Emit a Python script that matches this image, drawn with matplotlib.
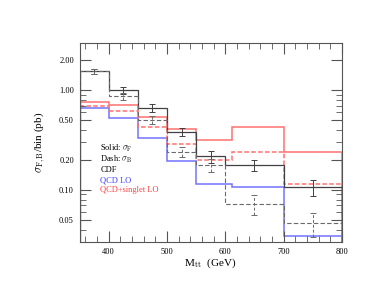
import matplotlib
matplotlib.use("Agg")
import matplotlib.pyplot as plt
from matplotlib.ticker import FixedLocator, FixedFormatter, NullFormatter
import numpy as np

plt.rcParams["font.family"] = ["Liberation Serif", "DejaVu Serif"]
plt.rcParams["mathtext.fontset"] = "cm"

# CDF data bins (GeV)
data_edges = [350, 400, 450, 500, 550, 600, 700, 800]
data_centers = [375, 425, 475, 525, 575, 650, 750]
cdf_sigma_f = [1.55, 1.00, 0.667, 0.382, 0.218, 0.178, 0.106]
cdf_sigma_f_err = [0.09, 0.08, 0.057, 0.036, 0.03, 0.024, 0.02]
cdf_sigma_b = [1.55, 0.88, 0.505, 0.242, 0.177, 0.072, 0.0465]
cdf_sigma_b_err = [0.08, 0.07, 0.043, 0.03, 0.027, 0.016, 0.0125]

# theory bins (GeV)
theory_edges = [350, 400, 450, 500, 550, 612, 700, 800]
qcd_lo = [0.661, 0.525, 0.329, 0.195, 0.116, 0.106, 0.0347]
singlet_sigma_f = [0.76, 0.71, 0.542, 0.41, 0.316, 0.427, 0.243]
singlet_sigma_b = [0.705, 0.615, 0.424, 0.29, 0.198, 0.238, 0.114]

y_ticks = [0.05, 0.10, 0.20, 0.50, 1.00, 2.00]

black = "#404040"
grey = "#6a6a6a"
red = "#ff7070"
blue = "#7373ff"

fig = plt.figure(figsize=(3.85, 2.98), dpi=100)
ax = fig.add_axes([0.2065, 0.188, 0.6815, 0.668])

ax.stairs(qcd_lo, theory_edges, color=blue, lw=1.1)
ax.stairs(singlet_sigma_f, theory_edges, color=red, lw=1.1)
ax.stairs(singlet_sigma_b, theory_edges, color=red, lw=1.1, ls=(0, (3, 1.5)))

ax.stairs(cdf_sigma_f, data_edges, color=black, lw=0.9)
ax.stairs(cdf_sigma_b, data_edges, color=grey, lw=0.8, ls=(0, (4, 2)))

eb = ax.errorbar(data_centers, cdf_sigma_f, yerr=cdf_sigma_f_err, fmt="none",
                 ecolor=black, elinewidth=0.7, capsize=2, capthick=0.7)
eb2 = ax.errorbar(data_centers, cdf_sigma_b, yerr=cdf_sigma_b_err, fmt="none",
                  ecolor=grey, elinewidth=0.7, capsize=2, capthick=0.7)
eb2[2][0].set_linestyle((0, (3, 2)))

ax.set_yscale("log")
ax.set_xlim(350, 800)
ax.set_ylim(0.03, 3.0)

ax.yaxis.set_major_locator(FixedLocator(y_ticks))
ax.yaxis.set_major_formatter(FixedFormatter(["%.2f" % t for t in y_ticks]))
minor = [m * 10.0 ** e for e in (-2, -1, 0) for m in range(1, 10)]
minor = [v for v in minor if 0.03 <= v <= 3.0 and not any(abs(v - t) < 1e-9 for t in y_ticks)]
ax.yaxis.set_minor_locator(FixedLocator(minor))
ax.yaxis.set_minor_formatter(NullFormatter())

ax.set_xticks([400, 500, 600, 700, 800])
ax.set_xticks(np.arange(360, 800, 20), minor=True)

ax.tick_params(which="both", direction="in", top=True, right=True,
               labelsize=6, color="#555555", pad=4)
ax.tick_params(which="major", length=8, width=0.8)
ax.tick_params(which="minor", length=4, width=0.6)
for s in ax.spines.values():
    s.set_color("#555555")
    s.set_linewidth(0.8)

ax.set_xlabel(r"M$_{\rm tt}$  (GeV)", fontsize=8, labelpad=1)
ax.set_ylabel(r"$\sigma_{\rm F,B}$/bin (pb)", fontsize=8, labelpad=8)

tx = 0.08
fs = 6
ax.text(tx, 0.47, r"Solid: $\sigma_{\rm F}$", transform=ax.transAxes, fontsize=fs, va="center", color="black")
ax.text(tx, 0.414, r"Dash: $\sigma_{\rm B}$", transform=ax.transAxes, fontsize=fs, va="center", color="black")
ax.text(tx, 0.362, "CDF", transform=ax.transAxes, fontsize=fs, va="center", color="black")
ax.text(tx, 0.311, "QCD LO", transform=ax.transAxes, fontsize=fs, va="center", color="#4040ff")
ax.text(tx, 0.263, "QCD+singlet LO", transform=ax.transAxes, fontsize=fs, va="center", color="#ff4040")

fig.savefig("out.png", dpi=100)
